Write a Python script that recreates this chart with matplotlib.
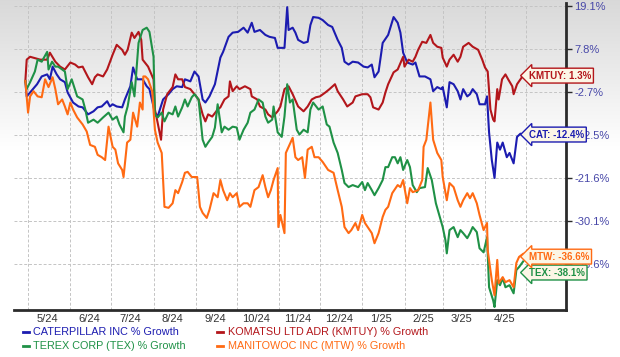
import numpy as np
import pandas as pd
import matplotlib
matplotlib.use("Agg")
import matplotlib.pyplot as plt
import matplotlib.dates as mdates
from matplotlib.lines import Line2D
from matplotlib.ticker import FixedLocator, NullFormatter

plt.rcParams['font.family'] = ['Liberation Sans', 'DejaVu Sans']

# ---- data (days after 2024-05-01, % growth) ----
start = pd.Timestamp('2024-05-01')

cat_days = [-2, -1, 1.5, 6.6, 10, 14, 16, 18, 21, 23.5, 27, 29, 33, 37, 40, 44, 48, 51, 54, 58, 60,
            62, 65, 69, 71, 75, 77, 80, 84, 87, 89, 93, 95, 99, 103, 106, 109, 113, 115, 119, 122,
            125, 128, 130, 133, 137, 141, 143, 147, 150, 154, 158, 161, 164, 166, 170, 174, 177, 181, 183, 186,
            188, 190, 191, 194, 196, 198, 202, 205, 207, 209, 213, 216, 220, 223, 227, 230, 232, 235, 238, 242,
            246, 249, 252, 254, 257, 260, 264, 268, 271, 273, 275, 278, 282, 284, 287, 291, 295, 297, 300, 303,
            304, 307, 309, 312, 315, 317, 319, 322, 324, 326, 329, 331, 335, 336.5, 338, 340, 342, 344, 346, 348,
            351, 353, 356, 358.5, 361, 363]
cat_pct = [0.0, -3.7, -2.8, -0.8, 1.1, 1.6, 0.4, 3.5, 1.6, 0.4, -0.3, -2.8, -5.1, -6.0, -6.2, -7.8, -7.1, -6.2, -6.0, -4.8, -6.0,
           -5.5, -6.0, -6.2, -4.4, -1.3, 3.3, 0.4, 0.4, -1.3, -2.0, -7.4, -8.3, -4.4, -3.2, -2.0, -1.3, -1.5, 0.4, -0.1, 2.3,
           1.1, -4.4, -5.1, -3.7, -0.8, 5.7, 7.1, 11.0, 12.1, 12.3, 13.4, 12.1, 14.7, 12.3, 12.8, 11.5, 11.0, 10.7, 8.1, 8.1,
           8.1, 18.8, 12.8, 13.4, 12.1, 10.2, 9.4, 9.7, 14.1, 16.2, 16.0, 15.4, 14.1, 13.6, 10.2, 8.1, 4.7, 4.0, 4.7, 4.5,
           3.5, 3.3, 4.0, 0.9, 2.3, 9.4, 11.5, 16.2, 14.7, 12.1, 6.9, 4.5, 4.0, 4.5, 1.1, 1.1, 0.4, -2.5, -1.5, -2.0,
           -1.5, -6.2, -0.3, -0.8, -2.5, -4.4, -2.0, -3.7, -3.2, -2.0, -3.2, -5.5, -5.5, -3.7, -11.9, -17.8, -21.6, -14.1, -15.6, -14.1,
           -17.2, -16.3, -18.5, -12.9, -12.2, -12.4]

kmt_days = [-2, -1, 1.5, 9, 14, 16, 20, 23.5, 27, 31, 34.5, 37, 40, 44, 47, 49, 51, 55, 58, 62,
            65, 69, 71, 73, 76, 78, 81, 83, 84, 88, 92, 93, 95, 97.5, 99, 102, 106, 108, 110, 113,
            115, 119, 122, 125, 128, 130, 132, 135, 139, 141, 144, 147, 148, 150, 153, 155, 159, 163, 164, 168,
            170, 174, 176, 179, 183, 185, 188, 191, 194, 198, 202, 205, 208, 211, 214, 218, 221, 225, 227, 231,
            234, 238, 240, 245, 249, 251, 253, 257, 260, 262, 264, 268, 271, 275, 276, 279, 282, 284, 286, 289,
            292, 295, 297, 300, 303, 304, 307, 309, 312, 315, 317, 319, 323, 326, 330, 333, 335, 337, 339, 341,
            342, 344, 345, 347.5, 350, 352, 355, 356, 358.5, 361, 363]
kmt_pct = [-0.1, 5.2, 5.9, 5.2, 5.2, 6.9, 4.7, 3.5, 2.8, 4.5, 4.0, 3.3, 3.5, 0.9, -0.8, 0.9, 1.6, 1.1, 2.8, 6.4,
           8.9, 7.6, 6.4, 7.6, 12.1, 10.7, 12.3, 10.2, 5.2, 3.5, 0.4, -6.7, -9.7, -13.5, -6.7, -3.2, -1.5, 1.6, 0.4, 0.4,
           -1.5, -2.0, -3.2, -4.4, -7.8, -9.4, -7.8, -8.3, -6.7, -6.2, -4.4, -3.7, -0.1, -2.5, -1.3, -2.0, -1.3, -2.0, -3.7, -4.4,
           -6.0, -6.7, -7.8, -8.5, -7.1, -6.0, -2.0, -1.3, -3.2, -6.0, -7.1, -6.0, -4.4, -3.9, -3.7, -2.8, -2.0, -0.8, -2.5, -4.4,
           -6.0, -5.1, -3.7, -3.2, -3.2, -3.9, -6.2, -6.7, -5.1, -2.8, -0.8, 2.1, 2.8, 5.9, 3.5, 5.2, 4.7, 5.9, 7.6, 9.7,
           9.4, 11.5, 9.4, 8.4, 8.1, 5.7, 3.5, 5.2, 6.4, 4.7, 5.9, 8.4, 9.4, 8.4, 7.6, 5.2, 3.3, 2.3, -6.7, -9.0,
           -9.4, -2.0, -4.4, 0.4, 1.6, 0.4, -1.3, -3.2, -0.8, 0.4, 1.3]

tex_days = [-2, -1, 1.5, 5, 7, 10, 14, 15, 17.6, 20, 22, 25, 27, 29, 32, 36, 40, 42, 44, 48, 51,
            55, 59, 62, 65, 67, 70, 71, 73, 76, 78, 81, 84, 87, 89, 92, 93, 95, 98, 100, 103,
            106, 108, 110, 113, 115, 117, 120, 122, 125, 128, 130, 132, 135, 137, 139, 142, 144, 147, 150, 153,
            155, 158, 161, 163, 166, 169, 172, 174, 176, 179, 180, 183, 186, 188, 190, 192, 194, 197, 199, 202,
            205, 207, 209, 213, 216, 219, 221, 224, 227, 230, 232, 235, 238, 242, 245, 247, 249, 252, 254, 257,
            260, 262, 264, 267, 269, 271, 273, 275, 278, 280, 282, 285, 287, 291, 293, 296, 299, 301, 304, 306,
            307, 309, 312, 315, 317, 319, 322, 324, 326, 329, 331, 334, 336.5, 338, 341, 342, 344, 346, 348, 350,
            353, 356, 358, 360, 363]
tex_pct = [0.0, -2.0, -0.3, 2.3, 5.2, 4.7, 7.1, 2.8, 4.7, 3.5, 3.5, 2.8, 2.3, -2.0, 0.4, -3.7, -4.4, -6.7, -9.7, -9.0, -9.7,
           -8.5, -7.4, -9.0, -8.3, -10.1, -11.9, -8.3, -6.0, -0.3, -3.7, 9.4, 12.8, 13.4, 12.3, 5.9, -7.8, -8.5, -7.4, -9.4, -7.4,
           -7.8, -6.0, -8.3, -6.2, -4.4, -6.0, -3.9, -3.2, -4.4, -13.5, -15.0, -14.1, -12.9, -10.8, -5.5, -11.9, -10.6, -11.3, -10.6, -10.8,
           -13.5, -11.3, -9.7, -7.4, -6.7, -4.4, -5.1, -8.3, -9.7, -9.0, -6.0, -11.9, -12.9, -8.3, -0.8, -5.1, -4.4, -11.3, -12.4, -11.3,
           -11.9, -6.7, -5.1, -6.7, -6.0, -10.1, -10.6, -14.1, -16.3, -19.9, -22.6, -23.4, -23.0, -23.4, -22.4, -24.0, -22.6, -24.0, -25.0, -23.6,
           -22.0, -19.3, -19.3, -17.2, -17.2, -18.5, -17.2, -19.9, -17.8, -19.3, -23.0, -24.4, -23.6, -23.4, -19.5, -22.0, -26.6, -28.5, -31.3, -33.9,
           -36.5, -31.9, -31.3, -33.3, -31.9, -32.5, -33.5, -32.5, -31.3, -32.3, -35.5, -36.3, -33.3, -43.2, -45.8, -47.1, -41.8, -42.8, -41.4, -43.2,
           -42.8, -44.4, -39.8, -39.2, -38.1]

mtw_days = [-2, 0, 1.5, 4, 7, 10, 12.5, 15, 18, 20, 22, 25, 27, 29, 31, 33, 36, 40, 43, 45.5,
            49, 51, 54, 56.5, 59, 62, 64, 66, 69, 70, 72.6, 75, 77, 80, 82, 84, 84.5, 86, 88, 91,
            93, 95, 98, 100, 103, 106, 108, 110, 113, 115, 117, 120, 124, 126, 128, 131, 133, 136, 139, 141,
            143, 146, 148, 150, 153, 155, 158, 161, 163, 166, 169, 172, 174, 176, 178, 180, 183, 183.5, 185, 188,
            189, 191, 194, 196, 198, 201, 203, 205, 208, 210, 213, 216, 220, 224, 227, 230, 232, 235, 237, 240,
            242, 245, 247, 249, 252, 254, 257, 260, 262, 264, 267, 271, 273, 275, 278, 280, 282, 286, 289, 290,
            292, 295, 297, 300, 303, 304, 307, 309, 312, 315, 317, 319, 322, 324, 326, 329, 331, 334, 336.5, 337,
            340, 342, 344, 345, 348, 350, 353, 356, 358, 360, 363]
mtw_pct = [0.0, -7.4, -3.7, -2.5, -3.7, -3.9, 0.4, -1.5, 0.9, -2.0, -5.5, -4.4, -6.0, -7.8, -5.1, -6.7, -8.5, -10.1, -11.7, -14.6,
           -15.0, -16.7, -17.2, -17.8, -10.6, -15.0, -15.6, -18.5, -19.9, -21.4, -14.1, -13.5, -7.4, -10.6, -5.1, -6.7, 1.1, 1.1, 0.4, -2.5,
           -11.3, -14.1, -16.3, -27.3, -27.5, -26.6, -24.0, -24.6, -22.4, -20.5, -20.3, -21.4, -21.4, -27.3, -28.5, -29.5, -27.9, -24.6, -25.4, -22.0,
           -24.0, -26.0, -24.6, -25.4, -24.6, -27.3, -26.6, -26.6, -27.3, -24.0, -23.4, -21.0, -23.4, -25.4, -24.0, -22.0, -19.5, -31.3, -28.9, -32.5,
           -16.3, -15.0, -13.1, -17.2, -17.8, -17.2, -21.6, -15.6, -15.0, -17.2, -17.2, -18.2, -19.9, -20.5, -24.0, -27.3, -31.3, -32.5, -31.9, -30.5,
           -31.9, -28.9, -30.5, -31.3, -32.5, -34.5, -32.5, -29.3, -27.9, -27.3, -24.6, -23.0, -23.4, -22.0, -26.6, -23.6, -24.4, -24.0, -22.0, -15.0,
           -13.5, -5.1, -13.5, -16.3, -17.8, -21.4, -26.0, -22.6, -23.4, -26.0, -27.3, -26.0, -24.6, -25.6, -24.6, -26.6, -28.9, -31.9, -30.5, -35.9,
           -41.8, -44.8, -37.8, -42.4, -41.2, -42.2, -41.8, -43.2, -38.4, -37.2, -36.6]

tick_vals = [-38.6, -30.1, -21.6, -12.5, -2.7, 7.8, 19.1]
month_labels = ['5/24', '6/24', '7/24', '8/24', '9/24', '10/24', '11/24',
                '12/24', '1/25', '2/25', '3/25', '4/25']

series = [
    ('CATERPILLAR INC % Growth', 'CAT', cat_days, cat_pct, '#1c1cb0', 0),
    ('KOMATSU LTD ADR (KMTUY) % Growth', 'KMTUY', kmt_days, kmt_pct, '#b3161b', 0),
    ('TEREX CORP (TEX) % Growth', 'TEX', tex_days, tex_pct, '#1f9146', -8),
    ('MANITOWOC INC (MTW) % Growth', 'MTW', mtw_days, mtw_pct, '#ff6a13', -2),
]


def to_dates(days):
    return start + pd.to_timedelta(np.asarray(days, float), unit='D')


# y axis: tick levels evenly spaced on screen
tv = np.array(tick_vals)
ti = np.arange(len(tv), dtype=float)


def fwd(v):
    v = np.asarray(v, float)
    out = np.interp(v, tv, ti)
    out = np.where(v < tv[0], (v - tv[0]) / (tv[1] - tv[0]), out)
    out = np.where(v > tv[-1], ti[-1] + (v - tv[-1]) / (tv[-1] - tv[-2]), out)
    return out


def inv(p):
    p = np.asarray(p, float)
    out = np.interp(p, ti, tv)
    out = np.where(p < 0, tv[0] + p * (tv[1] - tv[0]), out)
    out = np.where(p > ti[-1], tv[-1] + (p - ti[-1]) * (tv[-1] - tv[-2]), out)
    return out


fig = plt.figure(figsize=(6.2, 3.57), dpi=100)

# soft grey gradient behind the top of the chart
bg = fig.add_axes([0, 0, 1, 1], zorder=-5)
rows = np.linspace(0, 1, 357)
shade = 0.85 + 0.15 * np.clip(rows / 0.42, 0, 1)
grad = np.repeat(shade[:, None, None], 3, axis=2)
bg.imshow(grad, extent=[0, 1, 0, 1], aspect='auto', origin='upper')
bg.set_axis_off()

ax = fig.add_axes([0.0226, 0.1317, 0.8903, 0.8599])
ax.set_facecolor('none')
ax.set_yscale('function', functions=(fwd, inv))

for name, short, d, v, color, dy in series:
    ax.plot(to_dates(d), v, color=color, lw=1.5, solid_joinstyle='round')

ax.set_ylim(float(inv(-1.07)), float(inv(6.07)))
ax.set_xlim(to_dates([-10.3])[0], to_dates([394.4])[0])

ax.yaxis.tick_right()
ax.set_yticks(tick_vals, [f'{t:.1f}%' for t in tick_vals])
ax.tick_params(axis='y', length=4, width=1, color='#2b2b2b', labelsize=8,
               labelcolor='#4747a8', pad=2)

month_starts = pd.date_range('2024-05-01', '2025-05-01', freq='MS')
label_pos = pd.date_range('2024-05-01', periods=12, freq='MS') + pd.Timedelta(days=14)
ax.xaxis.set_major_locator(FixedLocator(mdates.date2num(month_starts)))
ax.xaxis.set_major_formatter(NullFormatter())
ax.xaxis.set_minor_locator(FixedLocator(mdates.date2num(label_pos)))
ax.set_xticklabels(month_labels, minor=True)
ax.tick_params(axis='x', which='both', length=0)
ax.tick_params(axis='x', which='minor', labelsize=8, labelcolor='#333333', pad=3)

ax.grid(True, which='major', color='#c4c4c4', linestyle=(0, (3, 2)), lw=0.7)
for s in ('left', 'top'):
    ax.spines[s].set_visible(False)
for s in ('bottom', 'right'):
    ax.spines[s].set_color('#2b2b2b')
    ax.spines[s].set_linewidth(2)

# end-of-line callouts
for name, short, d, v, color, dy in series:
    ax.annotate(f'{short}: {v[-1]:.1f}%', xy=(to_dates([d[-1]])[0], v[-1]),
                xytext=(4, dy), textcoords='offset points', ha='left', va='center',
                fontsize=7, fontweight='bold', color=color, zorder=5,
                bbox=dict(boxstyle='larrow,pad=0.25', fc='#fcf6e6', ec=color, lw=1))

# legend
legend_pos = [(0.037, 0.070), (0.350, 0.070), (0.037, 0.031), (0.350, 0.031)]
for (name, short, d, v, color, dy), (lx, ly) in zip(series, legend_pos):
    fig.add_artist(Line2D([lx, lx + 0.010], [ly, ly], transform=fig.transFigure,
                          color=color, lw=2))
    fig.text(lx + 0.017, ly, name, color=color, fontsize=7.8, va='center', ha='left')

fig.savefig('out.png', dpi=100)
